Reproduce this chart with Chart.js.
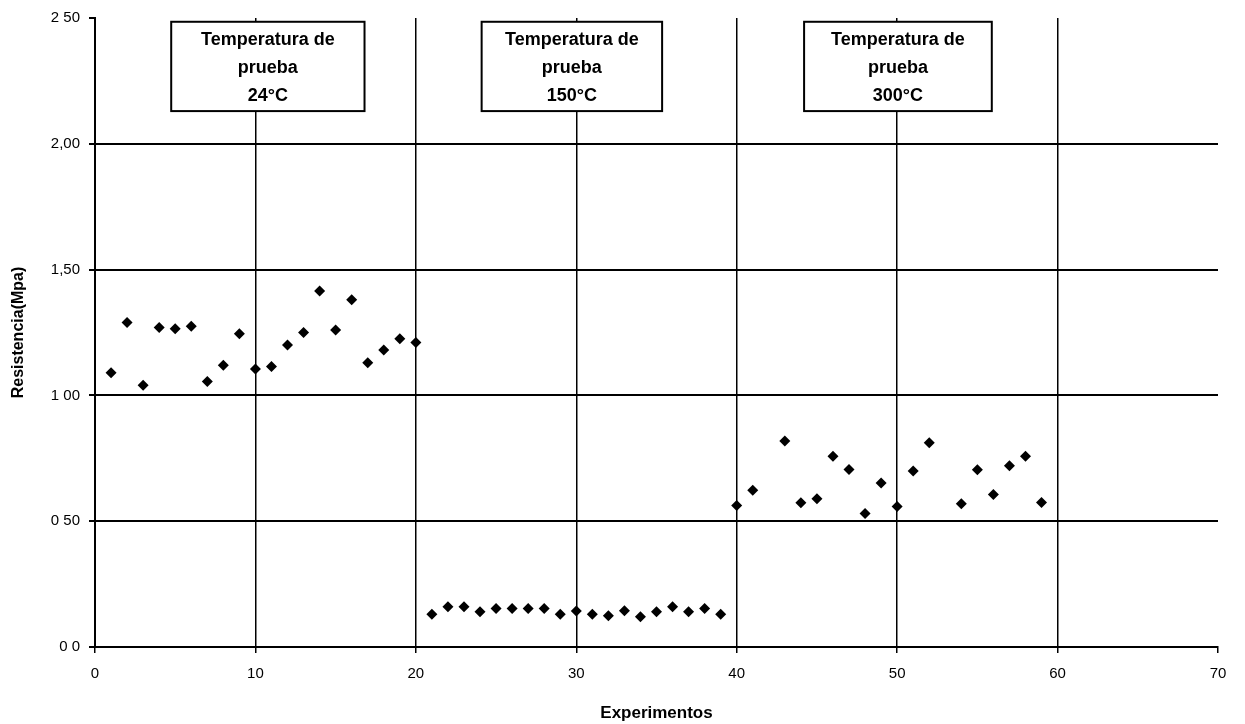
<!DOCTYPE html>
<html>
<head>
    <meta charset="UTF-8">
    <title>Resistencia vs Experimentos</title>
    <script src="https://cdn.jsdelivr.net/npm/chart.js"></script>
    <style>
        html, body { margin: 0; padding: 0; background: #fff; }
        #wrap { width: 1245px; height: 724px; }
    </style>
</head>
<body>
    <div id="wrap"><canvas id="chart"></canvas></div>

    <script>
        // datos
        var experimentos = [1, 2, 3, 4, 5, 6, 7, 8, 9, 10, 11, 12, 13, 14, 15, 16, 17, 18, 19, 20,
                            21, 22, 23, 24, 25, 26, 27, 28, 29, 30, 31, 32, 33, 34, 35, 36, 37, 38, 39,
                            40, 41, 43, 44, 45, 46, 47, 48, 49, 50, 51, 52, 54, 55, 56, 57, 58, 59];
        var resistencia = [1.09, 1.29, 1.04, 1.27, 1.265, 1.275, 1.055, 1.12, 1.245, 1.105,
                           1.115, 1.20, 1.25, 1.415, 1.26, 1.38, 1.13, 1.18, 1.225, 1.21,
                           0.13, 0.16, 0.16, 0.14, 0.153, 0.153, 0.153, 0.153, 0.13, 0.143,
                           0.13, 0.124, 0.144, 0.12, 0.14, 0.16, 0.14, 0.153, 0.13,
                           0.562, 0.623, 0.819, 0.573, 0.589, 0.758, 0.705, 0.531, 0.652, 0.558,
                           0.70, 0.812, 0.569, 0.704, 0.606, 0.72, 0.758, 0.574];

        // etiquetas del eje y tal como aparecen
        var yTicks = [0, 0.5, 1, 1.5, 2, 2.5];
        var yTickLabels = ['0 0', '0 50', '1 00', '1,50', '2,00', '2 50'];

        // cuadros de texto (rango x, rango y en unidades del grafico)
        var cuadroTextos = [
            ['Temperatura de', 'prueba', '24°C'],
            ['Temperatura de', 'prueba', '150°C'],
            ['Temperatura de', 'prueba', '300°C']
        ];
        var cuadroX = [[4.75, 16.8], [24.1, 35.35], [44.2, 55.9]];
        var cuadroY = [2.13, 2.485];

        var puntos = experimentos.map(function(x, i) {
            return { x: x, y: resistencia[i] };
        });

        // plugin para dibujar los cuadros
        var cuadrosPlugin = {
            id: 'cuadros',
            afterDatasetsDraw: function(chart) {
                var ctx = chart.ctx;
                var xs = chart.scales.x;
                var ys = chart.scales.y;
                var top = ys.getPixelForValue(cuadroY[1]);
                var bottom = ys.getPixelForValue(cuadroY[0]);
                ctx.save();
                cuadroTextos.forEach(function(lineas, i) {
                    var left = xs.getPixelForValue(cuadroX[i][0]);
                    var right = xs.getPixelForValue(cuadroX[i][1]);
                    ctx.fillStyle = '#fff';
                    ctx.fillRect(left, top, right - left, bottom - top);
                    ctx.strokeStyle = '#000';
                    ctx.lineWidth = 2;
                    ctx.strokeRect(left, top, right - left, bottom - top);
                    ctx.fillStyle = '#000';
                    ctx.font = 'bold 18px "Liberation Sans", Arial, sans-serif';
                    ctx.textAlign = 'center';
                    ctx.textBaseline = 'middle';
                    var cx = (left + right) / 2;
                    lineas.forEach(function(t, j) {
                        ctx.fillText(t, cx, top + 18 + j * 28);
                    });
                });
                ctx.restore();
            }
        };

        var ctx = document.getElementById('chart').getContext('2d');
        var chart = new Chart(ctx, {
            type: 'scatter',
            data: {
                datasets: [{
                    label: 'Resistencia',
                    data: puntos,
                    pointStyle: 'rectRot',
                    pointRadius: 5.5,
                    pointHoverRadius: 5.5,
                    backgroundColor: '#000',
                    borderColor: '#000',
                    borderWidth: 0
                }]
            },
            options: {
                responsive: true,
                maintainAspectRatio: false,
                animation: false,
                layout: { padding: { top: 17, right: 27, left: 0, bottom: 0 } },
                plugins: {
                    legend: { display: false },
                    tooltip: { enabled: false }
                },
                scales: {
                    x: {
                        type: 'linear',
                        min: 0,
                        max: 70,
                        ticks: {
                            stepSize: 10,
                            color: '#000',
                            padding: 12,
                            font: { family: '"Liberation Sans", Arial, sans-serif', size: 15 }
                        },
                        grid: {
                            color: function(c) { return c.tick.value === 70 ? 'rgba(0,0,0,0)' : '#000'; },
                            lineWidth: 1.5,
                            tickColor: '#000',
                            tickLength: 6
                        },
                        border: { color: '#000', width: 2 },
                        title: {
                            display: true,
                            text: 'Experimentos',
                            color: '#000',
                            padding: { top: 4, bottom: 0 },
                            font: { family: '"Liberation Sans", Arial, sans-serif', size: 17, weight: 'bold' }
                        },
                        afterFit: function(scale) { scale.height = 77; }
                    },
                    y: {
                        min: 0,
                        max: 2.5,
                        afterBuildTicks: function(scale) {
                            scale.ticks = yTicks.map(function(v) { return { value: v }; });
                        },
                        ticks: {
                            color: '#000',
                            padding: 9,
                            font: { family: '"Liberation Sans", Arial, sans-serif', size: 15 },
                            callback: function(value) {
                                var i = yTicks.indexOf(value);
                                return i >= 0 ? yTickLabels[i] : '';
                            }
                        },
                        grid: {
                            color: function(c) { return c.tick.value === 2.5 ? 'rgba(0,0,0,0)' : '#000'; },
                            lineWidth: 2,
                            tickColor: '#000',
                            tickLength: 6
                        },
                        border: { color: '#000', width: 2 },
                        title: {
                            display: true,
                            text: 'Resistencia(Mpa)',
                            color: '#000',
                            padding: { top: 9, bottom: 4 },
                            font: { family: '"Liberation Sans", Arial, sans-serif', size: 16, weight: 'bold' }
                        },
                        afterFit: function(scale) { scale.width = 95; }
                    }
                }
            },
            plugins: [cuadrosPlugin]
        });
    </script>
</body>
</html>
